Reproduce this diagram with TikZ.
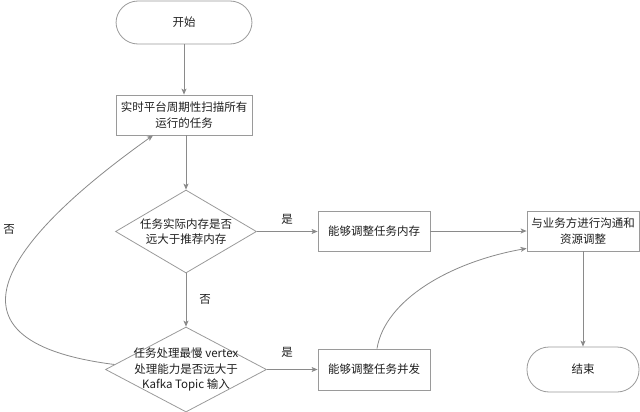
\documentclass[tikz,border=0pt]{standalone}
\usepackage{fontspec}
\newfontfamily\cjk{Noto Sans CJK SC}
\usetikzlibrary{shapes.geometric,arrows.meta}
\definecolor{linec}{HTML}{8A8A8A}
\definecolor{boxc}{HTML}{9A9A9A}
\definecolor{txtc}{HTML}{1E1E1E}
\begin{document}
\begin{tikzpicture}[x=1pt,y=-1pt,
  every node/.style={font=\cjk\fontsize{11.5}{15.5}\selectfont, text=txtc},
  procbox/.style={draw=boxc, line width=0.8pt, rectangle, minimum width=112pt, minimum height=40pt, inner sep=0pt, align=center},
  termbox/.style={draw=boxc, line width=0.8pt, rectangle, rounded corners=22pt, inner sep=0pt},
  decbox/.style={draw=boxc, line width=0.8pt, diamond, inner sep=0pt},
  conn/.style={draw=linec, line width=0.8pt, -{Stealth[length=6pt,width=5pt,inset=1.5pt]}},
  lbl/.style={inner sep=0pt}]
\useasboundingbox (0,0) rectangle (640,412);
\node[termbox, minimum width=136pt, minimum height=43pt] (start) at (184,22.5) {开始};
\node[procbox, minimum width=136pt] (scan) at (184,115) {实时平台周期性扫描所有\\运行的任务};
\node[decbox, minimum width=141pt, minimum height=83pt] (d1) at (186,231.5) {};
\node[align=center] (d1t) at (d1.center) {任务实际内存是否\\远大于推荐内存};
\node[decbox, minimum width=161pt, minimum height=85pt] (d2) at (186,369.5) {};
\node[align=center] (d2t) at (d2.center) {任务处理最慢 vertex\\处理能力是否远大于\\Kafka Topic 输入};
\node[procbox] (mem) at (374,231) {能够调整任务内存};
\node[procbox, minimum height=41pt] (par) at (374,369.5) {能够调整任务并发};
\node[procbox] (comm) at (583,231) {与业务方进行沟通和\\资源调整};
\node[termbox, minimum width=112pt, minimum height=45pt] (end) at (583,369.5) {结束};

\draw[conn] (start) -- (scan);
\draw[conn] (scan.south -| d1.north) -- (d1.north);
\draw[conn] (d1.east) -- (mem.west |- d1.east);
\draw[conn] (d1.south) -- (d2.north);
\draw[conn] (d2.east) -- (par.west |- d2.east);
\draw[conn] (mem) -- (comm);
\draw[conn] (comm) -- (end);
\draw[conn] ([xshift=3pt]par.north) .. controls (385,300) and (450,262) .. ([yshift=3pt]comm.south west);
\draw[conn] (d2.176) .. controls (-80,340) and (20,230) .. ([xshift=-31pt]scan.south);

\node[lbl] (y1) at (287,219) {是};
\node[lbl] (y2) at (287,352) {是};
\node[lbl] (n1) at (205,299) {否};
\node[lbl] (n2) at (9,229) {否};
\end{tikzpicture}
\end{document}
